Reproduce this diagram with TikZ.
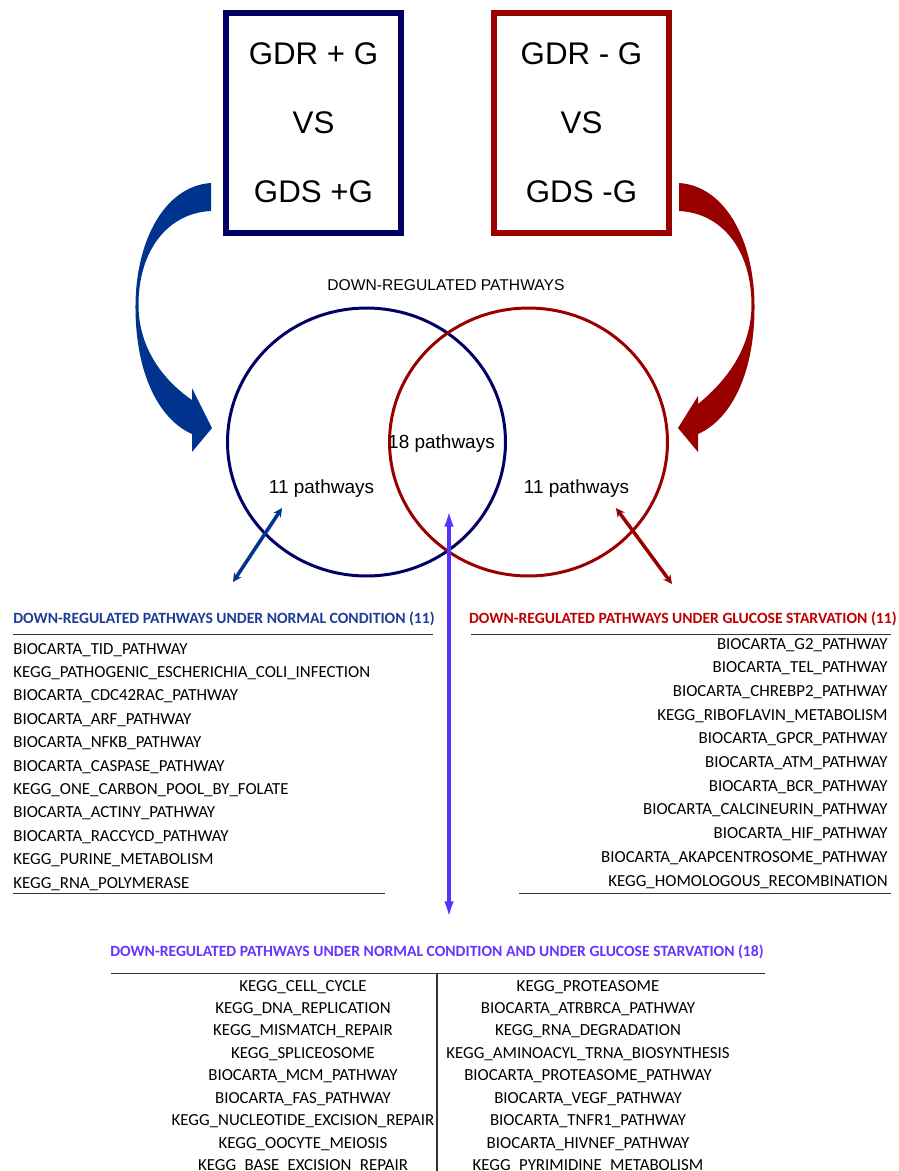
\documentclass[tikz,border=0pt]{standalone}
\usepackage{fontspec}
\usepackage{tikz}
\usetikzlibrary{arrows.meta,shapes.geometric,positioning,calc}
\newfontfamily\arialfont{Liberation Sans}
\newfontfamily\calfont{Carlito}
\definecolor{navybox}{RGB}{0,0,102}
\definecolor{navyarrow}{RGB}{0,51,141}
\definecolor{redbox}{RGB}{153,0,0}
\definecolor{bothline}{RGB}{85,51,255}
\definecolor{normtext}{RGB}{30,60,150}
\definecolor{starvtext}{RGB}{192,0,0}
\definecolor{bothtext}{RGB}{102,51,255}
\definecolor{ruleline}{RGB}{51,51,51}

\begin{document}
\begin{tikzpicture}[x=0.02cm,y=-0.02cm,
   cond/.style={draw,line width=3.4pt,minimum width=3.5cm,minimum height=4.4cm,align=center,
      font=\arialfont\fontsize{17.8}{39.2}\selectfont},
   venn/.style={draw,ellipse,line width=1.7pt,minimum width=5.56cm,minimum height=5.36cm,inner sep=0pt},
   numlabel/.style={font=\arialfont\fontsize{10.8}{13}\selectfont,anchor=base,inner sep=0pt},
   listtitle/.style={font=\calfont\bfseries\fontsize{8.9}{11}\selectfont,inner sep=0pt},
   listitem/.style={font=\calfont\fontsize{9.6}{11}\selectfont,inner sep=0pt},
   rule/.style={draw=ruleline,line width=0.6pt},
   pointer/.style={line width=2pt,{Stealth[length=5pt,width=5pt]}-{Stealth[length=5pt,width=5pt]}}]

\clip (0,0) rectangle (899,1171);

\node[cond,draw=navybox] (plusg) at (313.5,123) {GDR + G\\VS\\GDS +G};
\node[cond,draw=redbox] (minusg) at (581.5,123) {GDR - G\\VS\\GDS -G};

\fill[navyarrow] (211,183) .. controls (165,186) and (136,240) .. (135.5,305)
   .. controls (135,375) and (160,420) .. (192,434) -- (192,452) -- (212,428) -- (192,388) -- (192,400)
   .. controls (160,378) and (138.5,345) .. (138.5,305) .. controls (138.5,250) and (168,213) .. (211,211) -- cycle;
\begin{scope}[shift={(890,0)},xscale=-1]
\fill[redbox] (211,183) .. controls (165,186) and (136,240) .. (135.5,305)
   .. controls (135,375) and (160,420) .. (192,434) -- (192,452) -- (212,428) -- (192,396) -- (192,404)
   .. controls (160,378) and (138.5,345) .. (138.5,305) .. controls (138.5,250) and (168,213) .. (211,211) -- cycle;
\end{scope}

\node[font=\arialfont\fontsize{8.9}{11}\selectfont,anchor=base,inner sep=0pt] (downreg) at (446,290.6) {DOWN-REGULATED PATHWAYS};
\node[venn,draw=navybox] (normal) at (366.5,442) {};
\node[venn,draw=redbox] (starv) at (528.5,442) {};
\node[numlabel] (both) at (441.5,448) {18 pathways};
\node[numlabel] (onlynorm) at (321.5,493) {11 pathways};
\node[numlabel] (onlystarv) at (576.5,493) {11 pathways};

\coordinate (normend) at (233,582);
\coordinate (normtip) at (282,508);
\coordinate (starvend) at (672,584);
\coordinate (starvtip) at (616,508);
\coordinate (bothtip) at (449,510);
\coordinate (bothend) at (449,918);
\draw[pointer,navyarrow] (normend) -- (normtip);
\draw[pointer,redbox] (starvend) -- (starvtip);
\draw[bothline,line width=2pt,{Latex[length=9.5pt,width=5.5pt]}-{Latex[length=9.5pt,width=5.5pt]}] (bothtip) -- (bothend);

\node[listtitle,text=normtext,anchor=base west] (normtitle) at (13,623.3) {DOWN-REGULATED PATHWAYS UNDER NORMAL CONDITION (11)};
\draw[rule] (normtitle.base west) ++(0,11) -- ++(420,0);
\foreach \p [count=\i] in {BIOCARTA\_TID\_PATHWAY,KEGG\_PATHOGENIC\_ESCHERICHIA\_COLI\_INFECTION,
   BIOCARTA\_CDC42RAC\_PATHWAY,BIOCARTA\_ARF\_PATHWAY,BIOCARTA\_NFKB\_PATHWAY,BIOCARTA\_CASPASE\_PATHWAY,
   KEGG\_ONE\_CARBON\_POOL\_BY\_FOLATE,BIOCARTA\_ACTINY\_PATHWAY,BIOCARTA\_RACCYCD\_PATHWAY,
   KEGG\_PURINE\_METABOLISM,KEGG\_RNA\_POLYMERASE}
   \node[listitem,anchor=base west] (norm\i) at (13,{654+23.4*(\i-1)}) {\p};
\draw[rule] (norm11.base west) ++(0,5.3) -- ++(372,0);

\node[listtitle,text=starvtext,anchor=base east] (starvtitle) at (897,623.3) {DOWN-REGULATED PATHWAYS UNDER GLUCOSE STARVATION (11)};
\draw[rule] (starvtitle.base east) ++(-6,11) -- ++(-420,0);
\foreach \p [count=\i] in {BIOCARTA\_G2\_PATHWAY,BIOCARTA\_TEL\_PATHWAY,BIOCARTA\_CHREBP2\_PATHWAY,
   KEGG\_RIBOFLAVIN\_METABOLISM,BIOCARTA\_GPCR\_PATHWAY,BIOCARTA\_ATM\_PATHWAY,BIOCARTA\_BCR\_PATHWAY,
   BIOCARTA\_CALCINEURIN\_PATHWAY,BIOCARTA\_HIF\_PATHWAY,BIOCARTA\_AKAPCENTROSOME\_PATHWAY,
   KEGG\_HOMOLOGOUS\_RECOMBINATION}
   \node[listitem,anchor=base east] (starv\i) at (888,{649+23.7*(\i-1)}) {\p};
\draw[rule] (starv11.base east) ++(3,7.3) -- ++(-372,0);

\node[listtitle,text=bothtext,anchor=base] (bothtitle) at (437,956.7) {DOWN-REGULATED PATHWAYS UNDER NORMAL CONDITION AND UNDER GLUCOSE STARVATION (18)};
\draw[rule] (bothtitle.base) ++(-326,16.6) -- ++(654,0);
\draw[rule] (bothtitle.base) ++(0,16.6) -- ++(0,200);
\foreach \p [count=\i] in {KEGG\_CELL\_CYCLE,KEGG\_DNA\_REPLICATION,KEGG\_MISMATCH\_REPAIR,KEGG\_SPLICEOSOME,
   BIOCARTA\_MCM\_PATHWAY,BIOCARTA\_FAS\_PATHWAY,KEGG\_NUCLEOTIDE\_EXCISION\_REPAIR,
   KEGG\_OOCYTE\_MEIOSIS,KEGG\_BASE\_EXCISION\_REPAIR}
   \node[listitem,anchor=base] (bothl\i) at (303,{991+22.47*(\i-1)}) {\p};
\foreach \p [count=\i] in {KEGG\_PROTEASOME,BIOCARTA\_ATRBRCA\_PATHWAY,KEGG\_RNA\_DEGRADATION,
   KEGG\_AMINOACYL\_TRNA\_BIOSYNTHESIS,BIOCARTA\_PROTEASOME\_PATHWAY,BIOCARTA\_VEGF\_PATHWAY,
   BIOCARTA\_TNFR1\_PATHWAY,BIOCARTA\_HIVNEF\_PATHWAY,KEGG\_PYRIMIDINE\_METABOLISM}
   \node[listitem,anchor=base] (bothr\i) at (588,{991+22.47*(\i-1)}) {\p};
\end{tikzpicture}
\end{document}
